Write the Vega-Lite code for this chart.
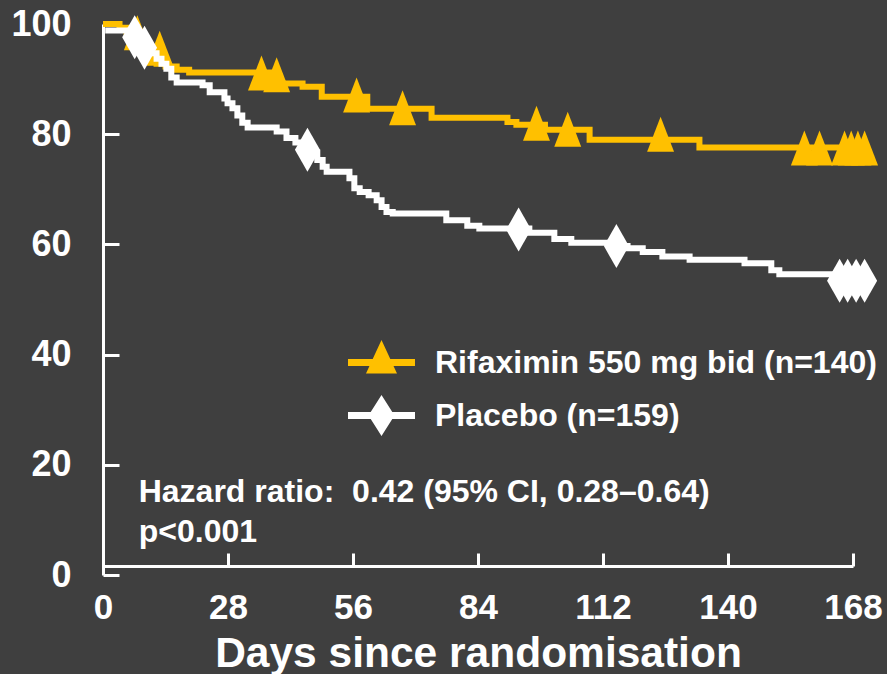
{
  "$schema": "https://vega.github.io/schema/vega-lite/v6.json",
  "width": 750,
  "height": 551,
  "autosize": {"type": "none"},
  "padding": {"left": 103, "top": 24, "right": 34, "bottom": 99},
  "background": "#3f3f3f",
  "config": {"view": {"stroke": null}, "font": "Liberation Sans"},
  "datasets": {
    "rifaximin": [
      {"day": 0, "surv": 100}, {"day": 3.7, "surv": 99.3}, {"day": 5.3, "surv": 98.5}, {"day": 7, "surv": 97},
      {"day": 8, "surv": 95.6}, {"day": 9, "surv": 94.3}, {"day": 10.5, "surv": 93.3}, {"day": 12, "surv": 92.8},
      {"day": 14, "surv": 92.3}, {"day": 16.5, "surv": 91.7}, {"day": 19.3, "surv": 91.2}, {"day": 37.5, "surv": 90.8},
      {"day": 39, "surv": 89.2}, {"day": 44.7, "surv": 88.6}, {"day": 49, "surv": 86.8}, {"day": 59.2, "surv": 84.6},
      {"day": 73.6, "surv": 83.0}, {"day": 90.6, "surv": 82.2}, {"day": 92.6, "surv": 81.7}, {"day": 99, "surv": 80.8},
      {"day": 109, "surv": 79.0}, {"day": 133.6, "surv": 77.6}, {"day": 168, "surv": 77.6}
    ],
    "rifaximinCensored": [
      {"series": "Rifaximin 550 mg bid (n=140)", "day": 7.7, "surv": 98.4},
      {"series": "Rifaximin 550 mg bid (n=140)", "day": 12.7, "surv": 95.6},
      {"series": "Rifaximin 550 mg bid (n=140)", "day": 35.5, "surv": 91.1},
      {"series": "Rifaximin 550 mg bid (n=140)", "day": 38.9, "surv": 90.8},
      {"series": "Rifaximin 550 mg bid (n=140)", "day": 56.8, "surv": 87.1},
      {"series": "Rifaximin 550 mg bid (n=140)", "day": 67.1, "surv": 84.8},
      {"series": "Rifaximin 550 mg bid (n=140)", "day": 97.1, "surv": 82.0},
      {"series": "Rifaximin 550 mg bid (n=140)", "day": 104.1, "surv": 80.9},
      {"series": "Rifaximin 550 mg bid (n=140)", "day": 124.9, "surv": 80.0},
      {"series": "Rifaximin 550 mg bid (n=140)", "day": 157.1, "surv": 77.5},
      {"series": "Rifaximin 550 mg bid (n=140)", "day": 160.5, "surv": 77.5},
      {"series": "Rifaximin 550 mg bid (n=140)", "day": 166.1, "surv": 77.5},
      {"series": "Rifaximin 550 mg bid (n=140)", "day": 167.6, "surv": 77.5},
      {"series": "Rifaximin 550 mg bid (n=140)", "day": 169.1, "surv": 77.5},
      {"series": "Rifaximin 550 mg bid (n=140)", "day": 170.6, "surv": 77.5}
    ],
    "placebo": [
      {"day": 0.5, "surv": 98.8}, {"day": 6.6, "surv": 97.9}, {"day": 7.5, "surv": 97.0},
      {"day": 8.4, "surv": 96.1}, {"day": 9.3, "surv": 95.4}, {"day": 10.4, "surv": 94.7}, {"day": 12, "surv": 93.7},
      {"day": 13.1, "surv": 92.8}, {"day": 14.2, "surv": 91.9}, {"day": 15.3, "surv": 90.3}, {"day": 16.5, "surv": 89.4},
      {"day": 22.3, "surv": 88.9}, {"day": 23.9, "surv": 87.6}, {"day": 27.2, "surv": 86.5}, {"day": 27.9, "surv": 85.6},
      {"day": 29, "surv": 84.7}, {"day": 30.1, "surv": 83.4}, {"day": 31.2, "surv": 82.1}, {"day": 32.4, "surv": 81.2},
      {"day": 38.9, "surv": 80.5}, {"day": 41.1, "surv": 79.3}, {"day": 43.1, "surv": 78.5}, {"day": 44.7, "surv": 77.9},
      {"day": 46.3, "surv": 76.7}, {"day": 48, "surv": 75.3}, {"day": 49.2, "surv": 74.1}, {"day": 50.1, "surv": 73.2},
      {"day": 55.2, "surv": 72.0}, {"day": 56.3, "surv": 70.2}, {"day": 57.5, "surv": 69.5}, {"day": 59.5, "surv": 68.9},
      {"day": 61.3, "surv": 68.0}, {"day": 62.4, "surv": 66.8}, {"day": 63.5, "surv": 65.9}, {"day": 64.9, "surv": 65.6},
      {"day": 76.9, "surv": 64.4}, {"day": 81.6, "surv": 63.4}, {"day": 84.3, "surv": 62.9}, {"day": 95.5, "surv": 62.1},
      {"day": 101.1, "surv": 61.0}, {"day": 104.9, "surv": 60.3}, {"day": 113.9, "surv": 59.7}, {"day": 117.5, "surv": 59.3},
      {"day": 120.9, "surv": 58.6}, {"day": 125.3, "surv": 57.8}, {"day": 131.4, "surv": 57.2}, {"day": 143.7, "surv": 56.6},
      {"day": 149.7, "surv": 55.3}, {"day": 151.5, "surv": 54.6}, {"day": 164.5, "surv": 54.0}, {"day": 168, "surv": 54.0}
    ],
    "placeboCensored": [
      {"series": "Placebo (n=159)", "day": 7.1, "surv": 97.6},
      {"series": "Placebo (n=159)", "day": 9.3, "surv": 95.7},
      {"series": "Placebo (n=159)", "day": 45.8, "surv": 77.2},
      {"series": "Placebo (n=159)", "day": 93.1, "surv": 62.7},
      {"series": "Placebo (n=159)", "day": 115.0, "surv": 59.7},
      {"series": "Placebo (n=159)", "day": 165.0, "surv": 53.4},
      {"series": "Placebo (n=159)", "day": 166.8, "surv": 53.4},
      {"series": "Placebo (n=159)", "day": 168.7, "surv": 53.4},
      {"series": "Placebo (n=159)", "day": 170.6, "surv": 53.4}
    ],
    "note": [
      {"note": "Hazard ratio:\u00a0 0.42 (95% CI, 0.28–0.64)\np<0.001"}
    ]
  },
  "layer": [
    {
      "encoding": {
        "x": {
          "field": "day", "type": "quantitative",
          "scale": {"domain": [0, 168], "nice": false, "zero": false},
          "axis": {
            "title": "Days since randomisation", "values": [0, 28, 56, 84, 112, 140, 168], "offset": -9,
            "grid": false, "domainColor": "#FFFFFF", "domainWidth": 3, "tickColor": "#FFFFFF", "tickWidth": 3, "tickSize": -13,
            "labelColor": "#FFFFFF", "labelFontSize": 35, "labelFontWeight": "bold", "labelFont": "Liberation Sans", "labelPadding": 37, "labelFlush": false,
            "titleColor": "#FFFFFF", "titleFontSize": 42.5, "titleFontWeight": "bold", "titleFont": "Liberation Sans", "titlePadding": 7
          }
        },
        "y": {
          "field": "surv", "type": "quantitative",
          "scale": {"domain": [0, 100], "nice": false},
          "axis": {
            "title": null, "values": [0, 20, 40, 60, 80, 100],
            "grid": false, "domainColor": "#FFFFFF", "domainWidth": 3, "tickColor": "#FFFFFF", "tickWidth": 3, "tickSize": -16,
            "labelColor": "#FFFFFF", "labelFontSize": 36, "labelFontWeight": "bold", "labelFont": "Liberation Sans", "labelPadding": 48
          }
        }
      },
      "layer": [
        {
          "data": {"name": "rifaximin"},
          "mark": {"type": "line", "interpolate": "step-after", "stroke": "#FFC000", "strokeWidth": 6}
        },
        {
          "data": {"name": "rifaximinCensored"},
          "mark": {"type": "point", "filled": true, "size": 1225, "opacity": 1, "strokeWidth": 0, "shape": "M0,-1L0.77,1L-0.77,1Z"},
          "encoding": {
            "color": {
              "field": "series", "type": "nominal",
              "scale": {"domain": ["Rifaximin 550 mg bid (n=140)", "Placebo (n=159)"], "range": ["#FFC000", "#FFFFFF"]},
              "legend": {
                "title": null, "orient": "none", "legendX": 261, "legendY": 321, "padding": 0,
                "symbolSize": 1225, "labelOffset": 36, "rowPadding": 16,
                "labelFont": "Liberation Sans", "labelFontSize": 32, "labelFontWeight": "bold", "labelColor": "#FFFFFF", "labelLimit": 800,
                "symbolStrokeWidth": 0, "symbolOpacity": 1,
                "encode": {"symbols": {"update": {
                  "shape": {"signal": "datum.value === 'Placebo (n=159)' ? 'M-1.914,-0.2L1.914,-0.2L1.914,0.2L-1.914,0.2ZM0,-1.17L0.743,0L0,1.17L-0.743,0Z' : 'M-1.914,-0.2L1.914,-0.2L1.914,0.2L-1.914,0.2ZM0,-1.29L0.886,0.63L-0.886,0.63Z'"},
                  "size": {"value": 1225},
                  "opacity": {"value": 1}
                }}}
              }
            }
          }
        },
        {
          "data": {"name": "placebo"},
          "mark": {"type": "line", "interpolate": "step-after", "stroke": "#FFFFFF", "strokeWidth": 6}
        },
        {
          "data": {"name": "placeboCensored"},
          "mark": {"type": "point", "filled": true, "size": 1936, "opacity": 1, "strokeWidth": 0, "fill": "#FFFFFF", "shape": "M0,-1L0.57,0L0,1L-0.57,0Z"}
        }
      ]
    },
    {
      "data": {"name": "note"},
      "mark": {"type": "text", "align": "left", "baseline": "alphabetic", "lineBreak": "\n", "lineHeight": 40, "fontSize": 32, "fontWeight": "bold", "font": "Liberation Sans", "color": "#FFFFFF"},
      "encoding": {
        "x": {"datum": 8, "type": "quantitative"},
        "y": {"datum": 13.3, "type": "quantitative"},
        "text": {"field": "note"}
      }
    }
  ]
}
